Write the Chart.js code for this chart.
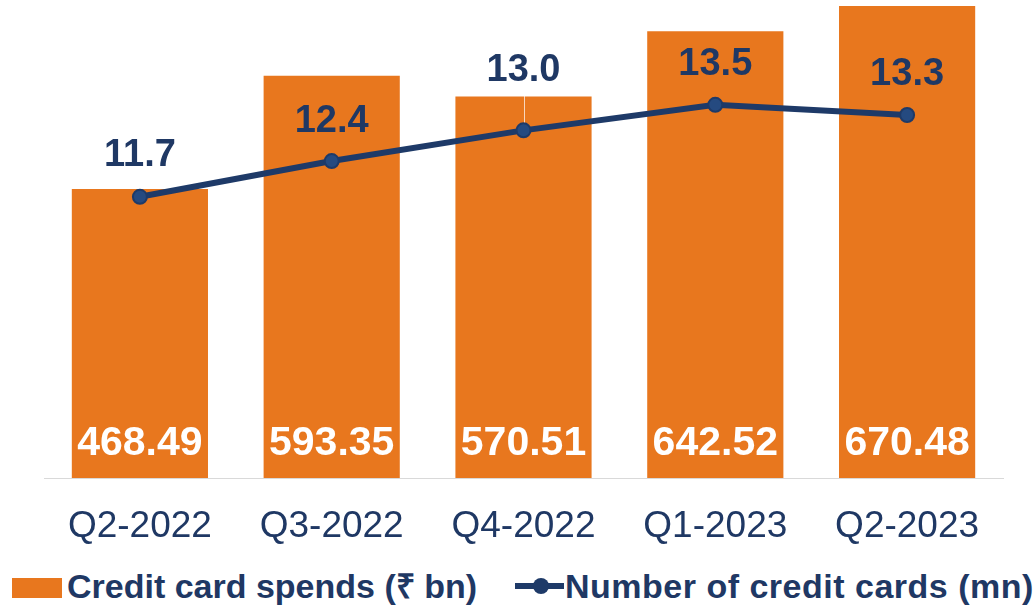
<!DOCTYPE html>
<html>
<head>
<meta charset="utf-8">
<script src="https://cdn.jsdelivr.net/npm/chart.js@4.4.0/dist/chart.umd.min.js"></script>
<style>
  body { margin: 0; background: #fff; font-family: "Liberation Sans", Arial, sans-serif; }
  .wrap { position: relative; width: 1035px; height: 607px; }
  .chart-box { position: absolute; left: 0; top: 0; width: 1035px; height: 560px; }
  .legend { position: absolute; left: 0; top: 566px; height: 40px; width: 1035px; color: #1f3864; font-weight: bold; font-size: 34px; white-space: nowrap; }
  .legend span { position: absolute; top: 0; line-height: 40px; }
  .swatch { position: absolute; left: 12px; top: 12px; width: 50px; height: 20px; background: #e8771e; }
  .lineMark { position: absolute; left: 515px; top: 17px; width: 49px; height: 6px; background: #1e3a68; }
  .lineDot { position: absolute; left: 533px; top: 12px; width: 16px; height: 16px; border-radius: 50%; background: #1e3a68; }
</style>
</head>
<body>
<div class="wrap">
  <div class="chart-box"><canvas id="chart"></canvas></div>
  <div class="legend">
    <div class="swatch"></div>
    <span style="left:67px">Credit card spends (₹ bn)</span>
    <div class="lineMark"></div>
    <div class="lineDot"></div>
    <span style="left:565px; letter-spacing:0.5px">Number of credit cards (mn)</span>
  </div>
</div>
<script>
const quarters = ["Q2-2022", "Q3-2022", "Q4-2022", "Q1-2023", "Q2-2023"];
const spends = [468.49, 593.35, 570.51, 642.52, 670.48];
const cards = [11.7, 12.4, 13.0, 13.5, 13.3];

const orange = "#e8771e";
const navy = "#1e3a68";

// how far each line label sits above its point (the Q4 one was pulled up with a leader line)
const labelLift = [41, 40, 60, 40, 41];

// draws the value labels (no datalabels plugin available offline)
const valueLabels = {
  id: "valueLabels",
  afterDatasetsDraw(chart) {
    const ctx = chart.ctx;
    const bottom = chart.chartArea.bottom;
    ctx.save();
    ctx.textAlign = "center";
    ctx.textBaseline = "middle";

    const bars = chart.getDatasetMeta(0).data;
    ctx.fillStyle = "#ffffff";
    ctx.font = "bold 41px 'Liberation Sans', Arial, sans-serif";
    bars.forEach((bar, i) => {
      ctx.fillText(spends[i].toFixed(2), bar.x, bottom - 34);
    });

    const points = chart.getDatasetMeta(1).data;
    ctx.font = "bold 38px 'Liberation Sans', Arial, sans-serif";
    points.forEach((pt, i) => {
      const lift = labelLift[i];
      if (lift > 45) {
        // leader line
        ctx.strokeStyle = "rgba(255,255,255,0.7)";
        ctx.lineWidth = 1;
        ctx.beginPath();
        ctx.moveTo(pt.x + 1, pt.y - 8);
        ctx.lineTo(pt.x + 1, pt.y - lift + 16);
        ctx.stroke();
      }
      ctx.fillStyle = "#1f3864";
      ctx.fillText(cards[i].toFixed(1), pt.x, pt.y - lift);
    });
    ctx.restore();
  }
};

new Chart(document.getElementById("chart"), {
  type: "bar",
  data: {
    labels: quarters,
    datasets: [
      {
        type: "bar",
        label: "Credit card spends (₹ bn)",
        data: spends,
        backgroundColor: orange,
        barPercentage: 0.71,
        categoryPercentage: 1,
        yAxisID: "y",
        order: 1
      },
      {
        type: "line",
        label: "Number of credit cards (mn)",
        data: cards,
        borderColor: navy,
        borderWidth: 6,
        pointRadius: 7,
        pointBorderWidth: 2,
        pointBackgroundColor: "#254a80",
        pointBorderColor: navy,
        tension: 0,
        yAxisID: "y2",
        order: 0
      }
    ]
  },
  options: {
    responsive: true,
    maintainAspectRatio: false,
    animation: false,
    layout: { autoPadding: false, padding: { left: 44, right: 32, top: 0, bottom: 0 } },
    plugins: {
      legend: { display: false },
      tooltip: { enabled: false }
    },
    scales: {
      x: {
        grid: { display: false, drawTicks: false },
        border: { display: true, color: "#d9d9d9", width: 1 },
        ticks: {
          color: "#1f3864",
          padding: 27,
          font: { family: "'Liberation Sans', Arial, sans-serif", size: 37 }
        },
        afterFit: scale => { scale.height = 82; }
      },
      y: { display: false, min: 150, max: 677 },
      y2: { display: false, min: 6.2, max: 15.55 }
    }
  },
  plugins: [valueLabels]
});
</script>
</body>
</html>
